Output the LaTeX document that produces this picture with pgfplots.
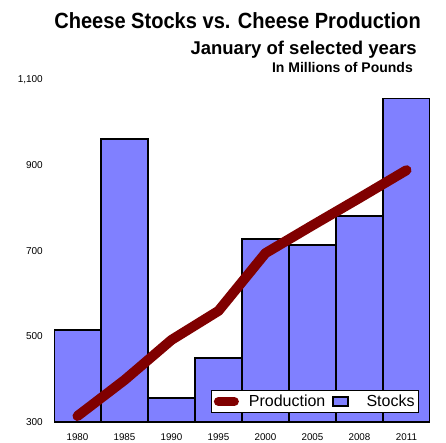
\documentclass[border=0pt]{standalone}
\usepackage{pgfplots}
\pgfplotsset{compat=1.18}
\usepackage{fontspec}
\setmainfont{Liberation Sans}
\newfontfamily\titlefont[FakeStretch=0.912]{Liberation Sans}
\definecolor{barblue}{HTML}{8080FF}
\definecolor{prodred}{HTML}{800000}
\pgfplotsset{
  prodlegend/.style={legend image code/.code={\draw[##1] (4.5pt,0pt) -- (20.5pt,0pt);}},
  stocklegend/.style={legend image code/.code={\draw[##1, line width=1.2pt] (0pt,-4.5pt) rectangle (15pt,4.5pt);}},
}
\pgfplotstableread{
x stocks prod
0 515 314
1 962 398
2 356 492
3 450 560
4 728 695
5 714 760
6 782 824
7 1056 889
}\datatable
\begin{document}
\begin{tikzpicture}[x=1pt,y=1pt]
\useasboundingbox (0,0) rectangle (446,443);
\begin{axis}[
  at={(54pt,21pt)}, anchor=south west,
  scale only axis, width=376pt, height=342pt,
  xmin=-0.5, xmax=7.5, ymin=300, ymax=1100,
  axis x line*=bottom, axis y line*=left,
  x axis line style={-, line width=1.3pt, black},
  y axis line style={draw=none},
  xtick={0,...,7},
  xticklabels={1980,1985,1990,1995,2000,2005,2008,2011},
  major tick length=0pt,
  ytick={300,500,700,900,1100},
  /pgf/number format/.cd, 1000 sep={,}, assume math mode=true,
  /pgfplots/.cd,
  xticklabel style={font=\fontsize{9.8}{11}\selectfont, inner sep=0pt, yshift=-11pt},
  yticklabel style={font=\fontsize{10}{11}\selectfont, inner sep=0pt, xshift=-11pt},
  legend style={at={(axis description cs:0.971,0.026)}, anchor=south east,
    draw=black, line width=1pt, font=\fontsize{16}{18}\selectfont,
    inner xsep=2pt, inner ysep=0.5pt,
    nodes={inner xsep=2pt, inner ysep=4pt},
    /tikz/every odd column/.append style={column sep=8pt},
    /tikz/every even column/.append style={column sep=5pt}},
  legend columns=2, legend cell align=left,
]
\addlegendimage{color=prodred, line width=9pt, line cap=round, prodlegend}
\addlegendentry{Production}
\addplot[ybar, bar width=1, fill=barblue, draw=black, line width=1.3pt, stocklegend]
  table[x=x, y=stocks] {\datatable};
\addlegendentry{\hspace{8pt}Stocks}
\addplot[color=prodred, line width=10pt, line cap=round, line join=round, forget plot]
  table[x=x, y=prod] {\datatable};
\end{axis}
\node[anchor=base east, inner sep=0pt, font=\fontsize{22}{24}\titlefont\bfseries] at (421,414) {Cheese Stocks vs. Cheese Production};
\node[anchor=base east, inner sep=0pt, font=\fontsize{18.5}{20}\selectfont\bfseries] at (417,388.5) {January of selected years};
\node[anchor=base east, inner sep=0pt, font=\fontsize{14}{15}\selectfont\bfseries] at (413,370) {In Millions of Pounds};
\end{tikzpicture}
\end{document}
